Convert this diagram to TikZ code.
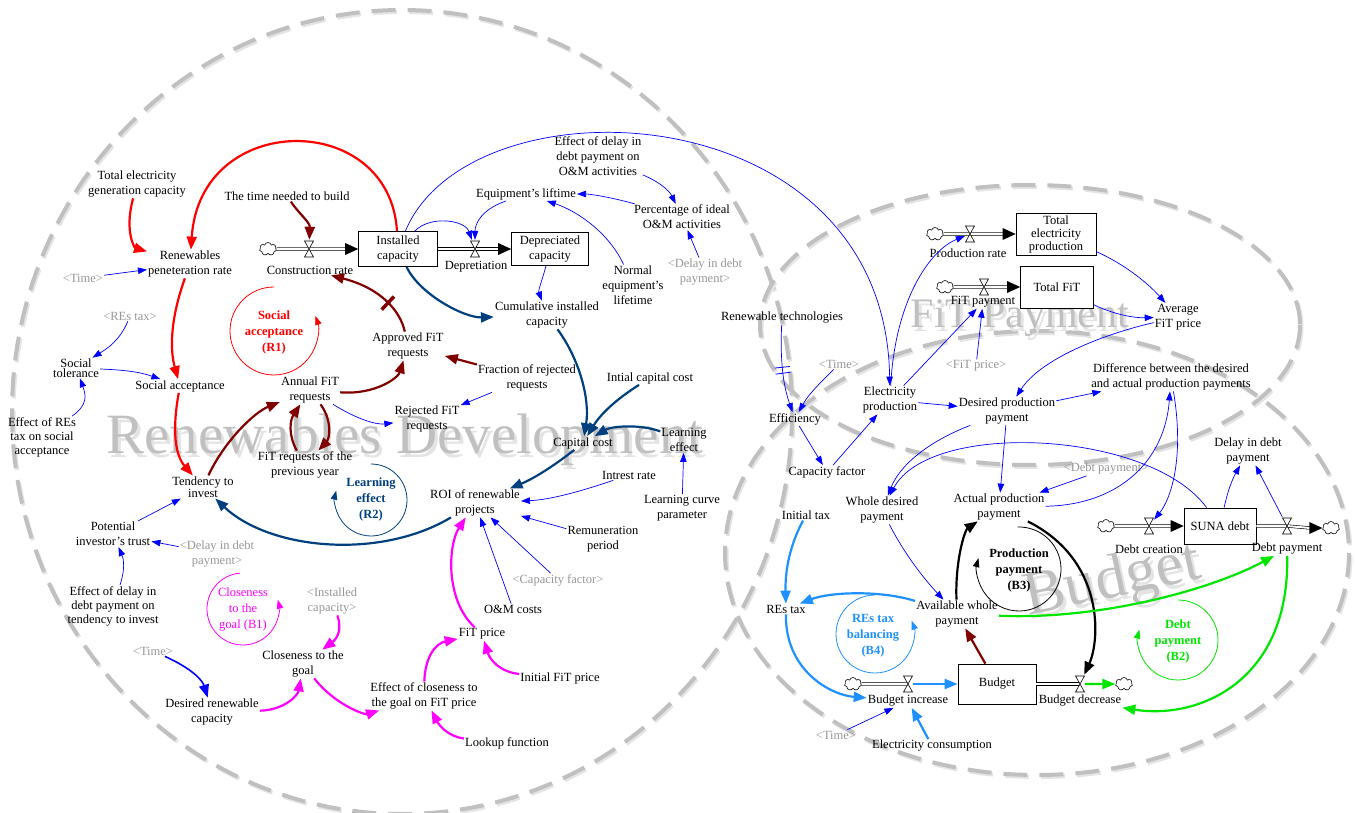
\documentclass[tikz,border=0pt]{standalone}
\usepackage{fontspec}
\setmainfont{Liberation Serif}
\usetikzlibrary{arrows.meta,shapes.symbols}
\definecolor{dred}{RGB}{128,0,0}
\definecolor{dblue}{RGB}{0,63,125}
\definecolor{lblue}{RGB}{30,144,255}
\definecolor{mag}{RGB}{255,0,255}
\definecolor{grn}{RGB}{0,230,0}
\definecolor{shad}{RGB}{150,150,150}
\definecolor{wm}{RGB}{192,192,192}
\definecolor{wml}{RGB}{228,228,228}
\tikzset{
 lbl/.style={font=\fontsize{12.5}{15}\selectfont, align=center, inner sep=1pt},
 ghost/.style={lbl, text=shad},
 stock/.style={draw, line width=0.7pt, fill=white, font=\fontsize{12.5}{15}\selectfont, align=center, inner sep=1pt},
 valvebox/.style={inner sep=0, minimum width=10pt, minimum height=18pt},
 cloudn/.style={cloud, cloud puffs=7, draw, fill=white, line width=0.6pt, minimum width=17pt, minimum height=13pt, inner sep=0, aspect=1.3},
 cb/.style={draw=blue, line width=0.7pt, -{Triangle[length=9pt,width=6.5pt]}},
 thk/.style={line width=2.2pt, -{Triangle[length=13pt,width=10pt]}},
 pipe/.style={draw=black, double=white, double distance=2pt, line width=0.6pt},
 loopt/.style={font=\bfseries\fontsize{12.5}{16}\selectfont, align=center, inner sep=0},
 loopa/.style={line width=0.8pt, -{Triangle[length=9pt,width=6.5pt]}},
 ell/.style={line width=4pt, dash pattern=on 24pt off 12pt},
 pics/hg/.style={code={\draw[fill=white,line width=0.6pt] (-4.5,-8)--(4.5,-8)--(-4.5,8)--(4.5,8)--cycle;}},
}
\begin{document}
\begin{tikzpicture}[x=1pt,y=-1pt]
\useasboundingbox (0,0) rectangle (1355,813);
% background ellipses
\draw[ell, wml] (403.5,414) ellipse [x radius=390, y radius=402];
\draw[ell, wm] (402,412) ellipse [x radius=390, y radius=402];
\draw[ell, wml] (1031.5,327) ellipse [x radius=270, y radius=140];
\draw[ell, wm] (1030,325) ellipse [x radius=270, y radius=140];
\draw[ell, wml] (1038.5,555) ellipse [x radius=312, y radius=222];
\draw[ell, wm] (1037,553) ellipse [x radius=312, y radius=222];
% watermarks
\node[font=\fontsize{57}{60}\selectfont, text=wml] at (408,444) {Renewables Development};
\node[font=\fontsize{57}{60}\selectfont, text=wm] (wm1) at (405,440) {Renewables Development};
\node[font=\fontsize{42}{45}\selectfont, text=wml] at (1023,322) {FiT Payment};
\node[font=\fontsize{42}{45}\selectfont, text=wm] (wm2) at (1020,318) {FiT Payment};
\node[font=\fontsize{62}{65}\selectfont, text=wml, rotate=12] at (1116,586) {Budget};
\node[font=\fontsize{62}{65}\selectfont, text=wm, rotate=12] (wm3) at (1113,582) {Budget};

% ---------- left nodes
\node[lbl] (tegc) at (137,184) {Total electricity\\generation capacity};
\node[lbl] (tnb) at (287,196) {The time needed to build};
\node[lbl] (rpr) at (190,264) {Renewables\\peneteration rate};
\node[ghost] (tm1) at (83,278) {<Time>};
\node[ghost] (rtx) at (130,316) {<REs tax>};
\node[lbl, font=\fontsize{12.5}{9.5}\selectfont] (stol) at (76,368) {Social\\tolerance};
\node[lbl] (sacc) at (180,386) {Social acceptance};
\node[lbl, font=\fontsize{12.5}{14}\selectfont] (eret) at (42,437) {Effect of REs\\tax on social\\acceptance};
\node[lbl] (afr) at (408,346) {Approved FiT\\requests};
\node[lbl] (frr) at (527,378) {Fraction of rejected\\requests};
\node[lbl] (afq) at (310,390) {Annual FiT\\requests};
\node[lbl] (rfr) at (427,419) {Rejected FiT\\requests};
\node[lbl] (ftp) at (305,465) {FiT requests of the\\previous year};
\node[lbl, font=\fontsize{12.5}{10}\selectfont] (tti) at (203,487) {Tendency to\\invest};
\node[lbl] (cic) at (547,315) {Cumulative installed\\capacity};
\node[lbl] (el) at (526,194) {Equipment's liftime};
\node[lbl] (edp) at (598,156) {Effect of delay in\\debt payment on\\O\&M activities};
\node[lbl] (poa) at (682,217) {Percentage of ideal\\O\&M activities};
\node[lbl] (neq) at (633,285) {Normal\\equipment's\\lifetime};
\node[ghost] (dd1) at (705,272) {<Delay in debt\\payment>};
\node[lbl] (cc) at (583,443) {Capital cost};
\node[lbl] (ice) at (650,378) {Intial capital cost};
\node[lbl] (lef) at (684,440) {Learning\\effect};
\node[lbl] (ir) at (629,475) {Intrest rate};
\node[lbl] (lcp) at (682,508) {Learning curve\\parameter};
\node[lbl] (roi) at (475,503) {ROI of renewable\\projects};
\node[lbl] (rp) at (603,539) {Remuneration\\period};
\node[ghost] (cf2) at (558,580) {<Capacity factor>};
\node[lbl] (om) at (513,609) {O\&M costs};
\node[lbl] (fitp) at (482,634) {FiT price};
\node[lbl] (ifp) at (560,678) {Initial FiT price};
\node[lbl] (eccg) at (424,696) {Effect of closeness to\\the goal on FiT price};
\node[lbl] (lf) at (507,743) {Lookup function};
\node[lbl] (cg) at (303,664) {Closeness to the\\goal};
\node[ghost] (icap) at (332,601) {<Installed\\capacity>};
\node[lbl] (drc) at (212,712) {Desired renewable\\capacity};
\node[ghost] (tm2) at (153,651) {<Time>};
\node[lbl] (pit) at (113,534) {Potential\\investor's trust};
\node[ghost] (dd2) at (217,554) {<Delay in debt\\payment>};
\node[lbl, font=\fontsize{12.5}{14}\selectfont] (edt) at (113,606) {Effect of delay in\\debt payment on\\tendency to invest};

% ---------- right nodes
\node[lbl] (rt) at (782,318) {Renewable technologies};
\node[ghost] (tm3) at (839,364) {<Time>};
\node[lbl] (eff) at (795,419) {Efficiency};
\node[lbl] (ep) at (890,400) {Electricity\\production};
\node[ghost] (fp2) at (976,366) {<FiT price>};
\node[lbl] (afp) at (1178,317) {Average\\FiT price};
\node[lbl] (dpp) at (1007,411) {Desired production\\payment};
\node[lbl] (dadp) at (1171,377) {Difference between the desired\\and actual production payments};
\node[ghost] (dpy) at (1106,469) {<Debt payment>};
\node[lbl] (ddp) at (1248,451) {Delay in debt\\payment};
\node[lbl] (capf) at (827,472) {Capacity factor};
\node[lbl] (itx) at (806,515) {Initial tax};
\node[lbl] (wdp) at (882,510) {Whole desired\\payment};
\node[lbl] (app) at (999,507) {Actual production\\payment};
\node[lbl] (rtx2) at (786,609) {REs tax};
\node[lbl] (awp) at (957,614) {Available whole\\payment};
\node[ghost] (tm4) at (836,735) {<Time>};
\node[lbl] (econ) at (932,746) {Electricity consumption};

% ---------- stocks and flows
\node[cloudn] (ccr) at (268,249) {};
\node[valvebox] (vcr) at (309,249) {};
\node[lbl] (crl) at (310,270) {Construction rate};
\node[stock, minimum width=79pt, minimum height=35pt] (ic) at (398,249) {Installed\\capacity};
\node[valvebox] (vdep) at (475,249) {};
\node[lbl] (depl) at (476,267) {Depretiation};
\node[stock, minimum width=77pt, minimum height=33pt] (dc) at (550,249) {Depreciated\\capacity};

\node[cloudn] (cprr) at (935,234) {};
\node[valvebox] (vprr) at (970,234) {};
\node[lbl] (prl) at (968,253) {Production rate};
\node[stock, minimum width=80pt, minimum height=42pt, font=\fontsize{12.5}{13}\selectfont] (tep) at (1056,234) {Total\\electricity\\production};
\node[cloudn] (cfit) at (945,287) {};
\node[valvebox] (vfit) at (984,287) {};
\node[lbl] (fitl) at (983,302) {FiT payment};
\node[stock, minimum width=73pt, minimum height=42pt] (tfit) at (1057,287) {Total FiT};

\node[cloudn] (cdcr) at (1106,526) {};
\node[valvebox] (vdcr) at (1149,526) {};
\node[lbl] (dcrl) at (1149,549) {Debt creation};
\node[stock, minimum width=72pt, minimum height=36pt] (suna) at (1220,526) {SUNA debt};
\node[valvebox] (vdpm) at (1287,526) {};
\node[lbl] (dpml) at (1287,549) {Debt payment};
\node[cloudn] (cdpm) at (1331,528) {};

\node[cloudn] (cbinc) at (853,684) {};
\node[valvebox] (vbinc) at (908,684) {};
\node[lbl] (bincl) at (908,701) {Budget increase};
\node[stock, minimum width=78pt, minimum height=40pt] (bud) at (997,684) {Budget};
\node[valvebox] (vbdec) at (1080,684) {};
\node[lbl] (bdecl) at (1080,701) {Budget decrease};
\node[cloudn] (cbdec) at (1124,684) {};

% pipes
\draw[pipe] (ccr) -- (vcr.center) -- ([xshift=-12pt]ic.west);
\fill ([xshift=-13pt,yshift=6pt]ic.west) -- (ic.west) -- ([xshift=-13pt,yshift=-6pt]ic.west) -- cycle;
\draw[pipe] (ic.east) -- (vdep.center) -- ([xshift=-12pt]dc.west);
\fill ([xshift=-13pt,yshift=6pt]dc.west) -- (dc.west) -- ([xshift=-13pt,yshift=-6pt]dc.west) -- cycle;
\draw[pipe] (cprr) -- (vprr.center) -- ([xshift=-12pt]tep.west);
\fill ([xshift=-13pt,yshift=6pt]tep.west) -- (tep.west) -- ([xshift=-13pt,yshift=-6pt]tep.west) -- cycle;
\draw[pipe] (cfit) -- (vfit.center) -- ([xshift=-12pt]tfit.west);
\fill ([xshift=-13pt,yshift=6pt]tfit.west) -- (tfit.west) -- ([xshift=-13pt,yshift=-6pt]tfit.west) -- cycle;
\draw[pipe] (cdcr) -- (vdcr.center) -- ([xshift=-12pt]suna.west);
\fill ([xshift=-13pt,yshift=6pt]suna.west) -- (suna.west) -- ([xshift=-13pt,yshift=-6pt]suna.west) -- cycle;
\draw[pipe] (suna.east) -- (vdpm.center) -- ([xshift=-12pt]cdpm.west);
\fill ([xshift=-13pt,yshift=6pt]cdpm.west) -- (cdpm.west) -- ([xshift=-13pt,yshift=-6pt]cdpm.west) -- cycle;
\draw[pipe] (cbinc) -- (vbinc.center);
\draw[pipe] (bud.east) -- (vbdec.center);
\draw[thk, lblue] (vbinc) -- (bud);
\draw[thk, grn] (vbdec) -- (cbdec);

% ---------- loops
\node[loopt, text=red] (lr1) at (274,332) {Social\\acceptance\\(R1)};
\draw[loopa, red] (274,331) ++(270:44) arc[start angle=270, end angle=-20, radius=44];
\node[loopt, text=dblue] (lr2) at (371,499) {Learning\\effect\\(R2)};
\draw[loopa, dblue] (371,500) ++(270:36) arc[start angle=270, end angle=555, radius=36];
\node[loopt, text=mag, font=\fontsize{12.5}{16}\selectfont] (lb1) at (243,610) {Closeness\\to the\\goal (B1)};
\draw[loopa, mag] (243,609) ++(265:36) arc[start angle=265, end angle=-15, radius=36];
\node[loopt] (lb3) at (1019,570) {Production\\payment\\(B3)};
\draw[loopa, black] (1019,569) ++(268:42) arc[start angle=268, end angle=555, radius=42];
\node[loopt, text=lblue] (lb4) at (873,636) {REs tax\\balancing\\(B4)};
\draw[loopa, lblue] (875,634) ++(270:39) arc[start angle=270, end angle=-20, radius=39];
\node[loopt, text=grn] (lb2) at (1178,641) {Debt\\payment\\(B2)};
\draw[loopa, grn] (1178,640) ++(270:40) arc[start angle=270, end angle=555, radius=40];

% ---------- connectors: red
\draw[thk, red] (tegc) .. controls (124,232) and (135,248) .. (rpr);
\draw[thk, red] (ic) .. controls (390,110) and (200,110) .. (rpr);
\draw[thk, red] (rpr) .. controls (170,320) and (170,350) .. (sacc);
\draw[thk, red] (sacc) .. controls (172,430) and (175,455) .. (tti);
% dark red
\draw[thk, dred] (tnb) .. controls (300,215) and (310,222) .. (vcr);
\draw[thk, dred] (afr) .. controls (400,310) and (380,288) .. (crl) node[pos=.45, sloped, fill=dred, minimum width=3.5pt, minimum height=18pt, inner sep=0] {};
\draw[thk, dred] (frr) -- (afr);
\draw[thk, dred] (afq) .. controls (375,395) and (398,378) .. (afr);
\draw[thk, dred] (tti) .. controls (225,440) and (255,412) .. (afq);
\draw[thk, dred] (afq) .. controls (332,420) and (330,438) .. (ftp);
\draw[thk, dred] (ftp) .. controls (288,435) and (290,420) .. (afq);
\draw[thk, dred] (bud) -- (awp);
% dark blue
\draw[thk, dblue] (ic) .. controls (420,295) and (465,318) .. (cic);
\draw[thk, dblue] (cic) .. controls (580,360) and (590,400) .. (cc);
\draw[thk, dblue] (ice) .. controls (615,400) and (600,415) .. (cc);
\draw[thk, dblue] (lef) .. controls (640,424) and (612,426) .. (cc);
\draw[thk, dblue] (cc) .. controls (555,465) and (535,478) .. (roi);
\draw[thk, dblue] (roi) .. controls (380,560) and (270,550) .. (tti);
% blue (left)
\draw[cb] (tm1) -- (rpr);
\draw[cb] (rtx) .. controls (120,340) and (108,348) .. (stol);
\draw[cb] (stol) .. controls (125,370) and (140,372) .. (sacc);
\draw[cb] (eret) .. controls (88,405) and (86,395) .. (stol);
\draw[cb] (afq) .. controls (355,418) and (375,425) .. (rfr);
\draw[cb] (frr) -- (rfr);
\draw[cb] (ic) .. controls (430,215) and (465,220) .. (vdep);
\draw[cb] (el) .. controls (480,210) and (475,225) .. (vdep);
\draw[cb] (dc) .. controls (543,278) and (538,290) .. (cic);
\draw[cb] (poa) .. controls (610,197) and (590,194) .. (el);
\draw[cb] (neq) .. controls (610,235) and (580,212) .. (el);
\draw[cb] (edp) .. controls (662,183) and (670,192) .. (poa);
\draw[cb] (dd1) -- (poa);
\draw[cb] (ic) .. controls (470,75) and (885,90) .. (ep);
\draw[cb] (ir) .. controls (570,495) and (545,500) .. (roi);
\draw[cb] (lcp) -- (lef);
\draw[cb] (rp) -- (roi);
\draw[cb] (cf2) -- (roi);
\draw[cb] (om) -- (roi);
\draw[cb] (dd2) -- (pit);
\draw[cb] (pit) -- (tti);
\draw[cb] (edt) .. controls (125,570) and (124,560) .. (pit);
\draw[thk, blue, line width=1.6pt] (tm2) .. controls (195,670) and (203,682) .. (drc);
% magenta
\draw[thk, mag] (drc) .. controls (285,710) and (298,695) .. (cg);
\draw[thk, mag] (icap) .. controls (342,628) and (338,638) .. (cg);
\draw[thk, mag] (cg) .. controls (335,705) and (365,715) .. (eccg);
\draw[thk, mag] (eccg) .. controls (425,655) and (437,643) .. (fitp);
\draw[thk, mag] (ifp) .. controls (500,672) and (490,660) .. (fitp);
\draw[thk, mag] (lf) .. controls (450,737) and (440,727) .. (eccg);
\draw[thk, mag] (fitp) .. controls (445,600) and (448,545) .. (roi);
% blue (right)
\draw[cb] (rt) .. controls (780,360) and (783,385) .. (eff)
  node[pos=.45, sloped, fill=blue, minimum width=.8pt, minimum height=15pt, inner sep=0] {}
  node[pos=.52, sloped, fill=blue, minimum width=.8pt, minimum height=15pt, inner sep=0] {};
\draw[cb] (tm3) .. controls (818,385) and (808,395) .. (eff);
\draw[cb] (eff) -- (capf);
\draw[cb] (capf) -- (ep);
\draw[cb] (ep) .. controls (895,300) and (930,250) .. (vprr);
\draw[cb] (ep) -- (fitl);
\draw[cb] (fp2) -- (fitl);
\draw[cb] (tep) .. controls (1120,262) and (1145,280) .. (afp);
\draw[cb] (tfit) .. controls (1115,315) and (1135,318) .. (afp);
\draw[cb] (afp) .. controls (1100,335) and (1040,360) .. (dpp);
\draw[cb] (ep) -- (dpp);
\draw[cb] (dpp) -- (dadp);
\draw[cb] (dpp) .. controls (920,445) and (898,470) .. (wdp);
\draw[cb] (dpp) -- (app);
\draw[cb] (dpy) -- (app);
\draw[cb] (suna) .. controls (1150,430) and (930,420) .. (wdp);
\draw[cb] (app) .. controls (1120,505) and (1165,460) .. (dadp);
\draw[cb] (dadp) .. controls (1185,460) and (1170,500) .. (vdcr);
\draw[cb] (wdp) .. controls (905,555) and (925,580) .. (awp);
\draw[cb] (suna) .. controls (1228,490) and (1232,480) .. (ddp);
\draw[cb] (vdpm) -- (ddp);
\draw[cb] (tm4) -- (bincl);
% light blue
\draw[thk, lblue] (itx) .. controls (790,545) and (785,570) .. (rtx2);
\draw[thk, lblue] (awp) .. controls (880,590) and (830,592) .. (rtx2);
\draw[thk, lblue] (rtx2) .. controls (785,670) and (830,695) .. (bincl);
\draw[thk, lblue] (econ) -- (bincl);
% black
\draw[thk] (awp) .. controls (955,560) and (965,530) .. (app);
\draw[thk] (app) .. controls (1105,560) and (1100,640) .. (vbdec);
% green
\draw[thk, grn] (awp) .. controls (1100,620) and (1210,590) .. (dpml);
\draw[thk, grn] (dpml) .. controls (1290,680) and (1200,720) .. (bdecl);

% valves on top
\pic at (vcr.center) {hg};
\pic at (vdep.center) {hg};
\pic at (vprr.center) {hg};
\pic at (vfit.center) {hg};
\pic at (vdcr.center) {hg};
\pic at (vdpm.center) {hg};
\pic at (vbinc.center) {hg};
\pic at (vbdec.center) {hg};
\end{tikzpicture}
\end{document}
